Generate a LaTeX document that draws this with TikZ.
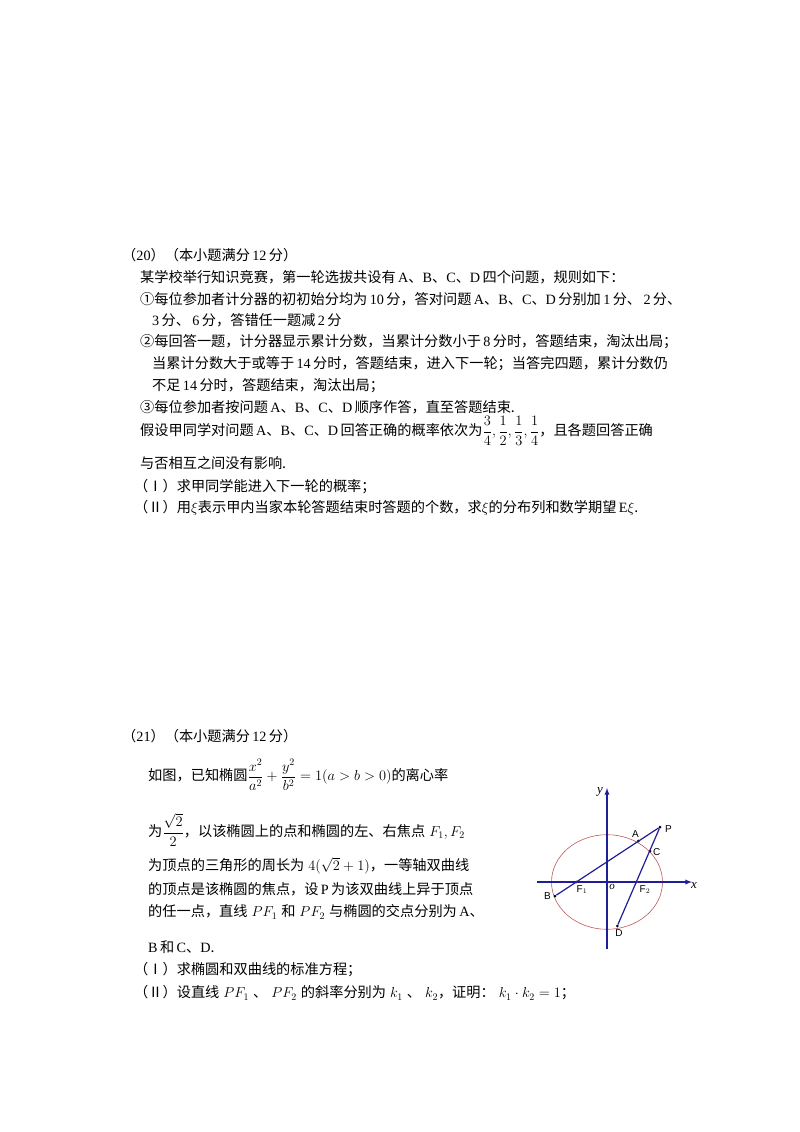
\documentclass[tikz,border=0pt]{standalone}
\usepackage{amsmath}
\usepackage{fontspec}
\setmainfont{Noto Sans CJK SC}
\newfontfamily\lat{Liberation Serif}
\newfontfamily\sans{Liberation Sans}
\newcommand\abcd{{\lat A}、{\lat B}、{\lat C}、{\lat D}}
\newcommand\nm[1]{\,{\lat #1}\,}
\definecolor{axisblue}{RGB}{30,30,150}
\definecolor{ell}{RGB}{190,90,90}
\begin{document}
\begin{tikzpicture}[x=1pt,y=-1pt,
  txt/.style={anchor=west,inner sep=0pt,font=\fontsize{14.2}{16}\selectfont},
  lbl/.style={inner sep=1pt,font=\sans\fontsize{10}{12}\selectfont},
  ax/.style={axisblue,line width=1.3pt},
  seg/.style={axisblue,line width=1.2pt},
  dot/.style={circle,fill=black,inner sep=0pt,minimum size=3pt}]
\useasboundingbox (0,0) rectangle (800,1132);
\node[txt] (t0) at (122,255) {（{\lat 20}）（本小题满分\nm{12}分）};
\node[txt] (t1) at (140,277) {某学校举行知识竞赛，第一轮选拔共设有\,\abcd\,四个问题，规则如下：};
\node[txt] (t2) at (140,299) {①每位参加者计分器的初初始分均为\nm{10}分，答对问题\,\abcd\,分别加\nm{1}分、\nm{2}分、};
\node[txt] (t3) at (152,320) {{\lat 3}\,分、\nm{6}分，答错任一题减\nm{2}分};
\node[txt] (t4) at (140,342) {②每回答一题，计分器显示累计分数，当累计分数小于\nm{8}分时，答题结束，淘汰出局；};
\node[txt] (t5) at (152,364) {当累计分数大于或等于\nm{14}分时，答题结束，进入下一轮；当答完四题，累计分数仍};
\node[txt] (t6) at (152,386) {不足\nm{14}分时，答题结束，淘汰出局；};
\node[txt] (t7) at (140,407) {③每位参加者按问题\,\abcd\,顺序作答，直至答题结束.};
\node[txt] (t8) at (140,431) {假设甲同学对问题\,\abcd\,回答正确的概率依次为$\dfrac34,\dfrac12,\dfrac13,\dfrac14$，且各题回答正确};
\node[txt] (t9) at (140,463) {与否相互之间没有影响.};
\node[txt] (t10) at (134,487) {（Ⅰ）求甲同学能进入下一轮的概率；};
\node[txt] (t11) at (134,508) {（Ⅱ）用$\xi$表示甲内当家本轮答题结束时答题的个数，求$\xi$的分布列和数学期望\,{\lat E}$\xi$.};

\node[txt] (s0) at (122,736) {（{\lat 21}）（本小题满分\nm{12}分）};
\node[txt] (s1) at (148,775) {如图，已知椭圆$\dfrac{x^2}{a^2}+\dfrac{y^2}{b^2}=1(a>b>0)$的离心率};
\node[txt] (s2) at (148,830) {为$\dfrac{\sqrt2}{2}$，以该椭圆上的点和椭圆的左、右焦点$\;F_1,F_2$};
\node[txt] (s3) at (148,866) {为顶点的三角形的周长为$\;4(\sqrt2+1)$，一等轴双曲线};
\node[txt] (s4) at (148,889) {的顶点是该椭圆的焦点，设\,{\lat P}\,为该双曲线上异于顶点};
\node[txt] (s5) at (148,912) {的任一点，直线$\;PF_1\;$和$\;PF_2\;$与椭圆的交点分别为\,{\lat A}、};
\node[txt] (s6) at (148,947) {{\lat B}\,和\,{\lat C}、{\lat D}.};
\node[txt] (s7) at (134,970) {（Ⅰ）求椭圆和双曲线的标准方程；};
\node[txt] (s8) at (134,993) {（Ⅱ）设直线$\;PF_1\;$、$\;PF_2\;$的斜率分别为$\;k_1\;$、$\;k_2$，证明：$\;k_1\cdot k_2=1$；};

% figure
\coordinate (O) at (607,882);
\draw[ell,line width=0.6pt] (O) ellipse [x radius=55.5, y radius=47.3];
\coordinate (xl) at (537,882); \coordinate (xr) at (692,882);
\coordinate (yb) at (607,949); \coordinate (yt) at (607,788);
\draw[ax,-latex] (xl) -- (xr);
\draw[ax,-latex] (yb) -- (yt);
\node[dot] (P) at (660,827) {};
\node[dot] (A) at (638.3,841) {};
\node[dot] (C) at (650,851) {};
\node[dot] (B) at (555,896) {};
\node[dot] (D) at (617.3,926) {};
\node[dot,fill=ell!70!black] (F1) at (576.7,882) {};
\node[dot,fill=ell!70!black] (F2) at (636.7,882) {};
\draw[seg] (B) -- (P);
\draw[seg] (D) -- (P);
\node[lbl,anchor=west] (lP) at (664,829) {P};
\node[lbl,anchor=south east] (lA) at (640,839) {A};
\node[lbl,anchor=west] (lC) at (652,852) {C};
\node[lbl,anchor=east] (lB) at (552,896) {B};
\node[lbl,anchor=north] (lD) at (619,928) {D};
\node[lbl,anchor=north] (lF1) at (582,884) {F$_1$};
\node[lbl,anchor=north] (lF2) at (645,884) {F$_2$};
\node[inner sep=0pt,font=\lat\itshape\fontsize{11}{12}\selectfont] (lO) at (612,887) {o};
\node[inner sep=0pt,font=\lat\itshape\fontsize{13}{14}\selectfont] (lx) at (694,886) {x};
\node[inner sep=0pt,font=\lat\itshape\fontsize{13}{14}\selectfont] (ly) at (600,792) {y};
\end{tikzpicture}
\end{document}
